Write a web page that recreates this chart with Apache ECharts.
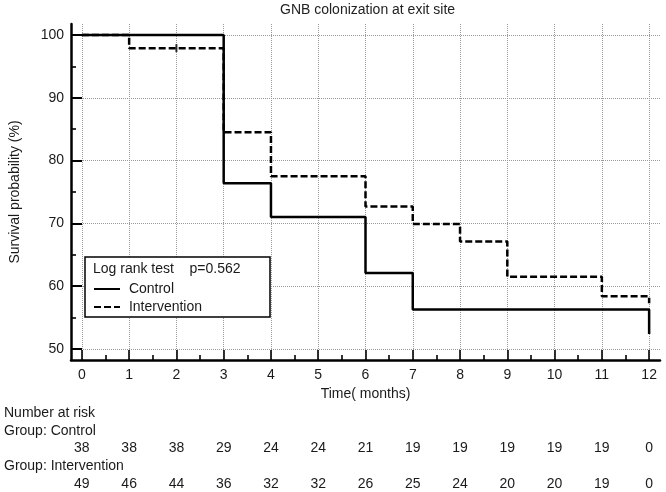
<!DOCTYPE html>
<html>
<head>
<meta charset="utf-8">
<script src="https://cdn.jsdelivr.net/npm/echarts@6/dist/echarts.min.js"></script>
<style>html,body{margin:0;padding:0;background:#fff;}#c{width:666px;height:492px;}</style>
</head>
<body>
<div id="c"></div>
<script>
// ---- data ----
var timeTicks = [0,1,2,3,4,5,6,7,8,9,10,11,12];
var yTicks = [50,60,70,80,90,100];
var controlSteps = [[0,100],[3,76.4],[4,71.0],[6,62.1],[7,56.3],[12,52.4]];
var interventionSteps = [[0,100],[1,97.9],[3,84.5],[4,77.5],[6,72.7],[7,69.9],[8,67.1],[9,61.5],[11,58.4],[12,57.3]];
var interventionCensored = [[2,97.9]];
var riskControl = [38,38,38,29,24,24,21,19,19,19,19,19,0];
var riskIntervention = [49,46,44,36,32,32,26,25,24,20,20,19,0];
var titleText = 'GNB colonization at exit site';
var pValueText = 'Log rank test    p=0.562';

var xMinorTicks = timeTicks.slice(0,-1).map(function(v){return v+0.5;});
var yMinorTicks = yTicks.slice(0,-1).map(function(v){return v+5;});

var FONT = 'Liberation Sans, Arial, sans-serif';
var FS = 14;
var TXT = '#1a1a1a';
var XMIN = -0.23, XMAX = 12.23, YMIN = 48.25, YMAX = 101.75;

function baseX(extra){
  var o = {type:'value', min:XMIN, max:XMAX, gridIndex:0, position:'bottom',
    axisLine:{show:false, onZero:false}, axisTick:{show:false}, axisLabel:{show:false}, splitLine:{show:false}};
  for (var k in extra) o[k]=extra[k];
  return o;
}
function ttl(text, left, top, color){
  return {text:text, left:left, top:top, padding:0,
    textStyle:{fontFamily:FONT, fontSize:FS, fontWeight:'normal', color:color||TXT}};
}

var chart = echarts.init(document.getElementById('c'));
chart.setOption({
  animation:false,
  backgroundColor:'#fff',
  title:[
    ttl(titleText, 280, 3, '#222'),
    ttl('Number at risk', 4, 406),
    ttl('Group: Control', 4, 424),
    ttl('Group: Intervention', 4, 459)
  ],
  grid:{left:67, right:6, top:24, bottom:132, containLabel:false},
  xAxis:[
    baseX({
      name:'Time( months)', nameLocation:'middle', nameGap:27,
      nameTextStyle:{fontFamily:FONT, fontSize:FS, color:TXT},
      axisLine:{show:true, onZero:false, lineStyle:{color:'#000', width:2.5}},
      axisTick:{show:true, inside:true, length:10, customValues:timeTicks, lineStyle:{color:'#000', width:1.6}},
      axisLabel:{show:true, customValues:timeTicks, margin:8, fontFamily:FONT, fontSize:FS, color:TXT},
      splitLine:{show:true, lineStyle:{color:'#9a9a9a', width:1, type:[1,1]}}
    }),
    baseX({
      axisTick:{show:true, inside:true, length:5, customValues:xMinorTicks, lineStyle:{color:'#000', width:1.6}}
    }),
    baseX({
      offset:81,
      axisLabel:{show:true, customValues:timeTicks, margin:0, fontFamily:FONT, fontSize:FS, color:TXT,
        formatter:function(v){return String(riskControl[Math.round(v)]);}}
    }),
    baseX({
      offset:117,
      axisLabel:{show:true, customValues:timeTicks, margin:0, fontFamily:FONT, fontSize:FS, color:TXT,
        formatter:function(v){return String(riskIntervention[Math.round(v)]);}}
    })
  ],
  yAxis:[
    {type:'value', min:YMIN, max:YMAX, position:'left',
      name:'Survival probability (%)', nameLocation:'middle', nameGap:49,
      nameTextStyle:{fontFamily:FONT, fontSize:FS, color:TXT},
      axisLine:{show:true, onZero:false, lineStyle:{color:'#000', width:2.5}},
      axisTick:{show:true, inside:true, length:11, customValues:yTicks, lineStyle:{color:'#000', width:2}},
      axisLabel:{show:true, customValues:yTicks, margin:7, fontFamily:FONT, fontSize:FS, color:TXT},
      splitLine:{show:true, lineStyle:{color:'#9a9a9a', width:1, type:[1,1]}}
    },
    {type:'value', min:YMIN, max:YMAX, position:'left', offset:0,
      axisLine:{show:false, onZero:false},
      axisTick:{show:true, inside:true, length:5, customValues:yMinorTicks, lineStyle:{color:'#000', width:1.6}},
      axisLabel:{show:false}, splitLine:{show:false}
    }
  ],
  legend:{
    data:['Control','Intervention'], orient:'vertical', left:93, top:282, padding:0,
    itemWidth:26, itemHeight:14, itemGap:4, z:10,
    itemStyle:{opacity:0},
    textStyle:{fontFamily:FONT, fontSize:FS, color:TXT},
    formatter:function(n){return ' '+n;}
  },
  graphic:[
    {type:'rect', z:8, shape:{x:85, y:257, width:185, height:60},
      style:{fill:'#fff', stroke:'#000', lineWidth:1.5}},
    {type:'text', z:9, x:93, y:262, style:{text:pValueText, font:FS+'px '+FONT, fill:TXT}}
  ],
  series:[
    {name:'Control', type:'line', step:'end', data:controlSteps, symbol:'none', z:3,
      lineStyle:{color:'#000', width:2.5, type:'solid'}, itemStyle:{color:'#000'}},
    {name:'Intervention', type:'line', step:'end', data:interventionSteps, symbol:'none', z:3,
      lineStyle:{color:'#000', width:2.5, type:[7,3]}, itemStyle:{color:'#000'}},
    {name:'censored', type:'scatter', data:interventionCensored, symbol:'rect', symbolSize:[2,8], z:4,
      itemStyle:{color:'#000'}, silent:true}
  ]
});
</script>
</body>
</html>
